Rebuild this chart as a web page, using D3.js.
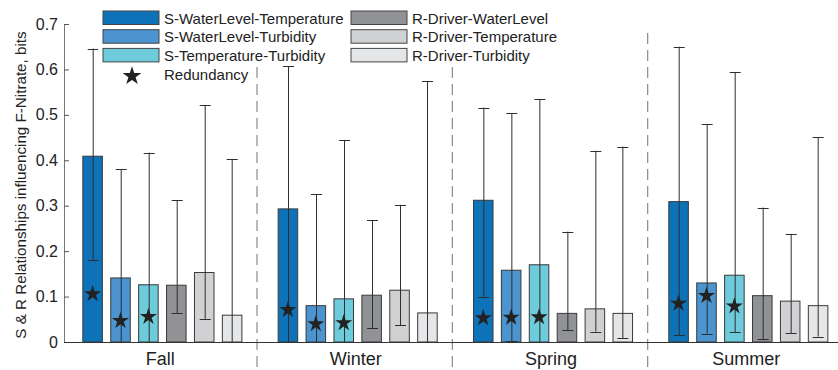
<!DOCTYPE html>
<html>
<head>
<meta charset="utf-8">
<script src="https://cdn.jsdelivr.net/npm/d3@7"></script>
<style>
  body { margin: 0; background: #fff; }
  svg { display: block; font-family: 'Liberation Sans', Arial, sans-serif; }
</style>
</head>
<body>
<div id="wrapper"></div>
<script>
// data
const seasons = ['Fall', 'Winter', 'Spring', 'Summer'];
const seriesNames = [
  'S-WaterLevel-Temperature', 'S-WaterLevel-Turbidity', 'S-Temperature-Turbidity',
  'R-Driver-WaterLevel', 'R-Driver-Temperature', 'R-Driver-Turbidity'
];
const seriesColors = ['#0e72b9', '#4b94d0', '#6dcbdb', '#909295', '#d0d1d3', '#e5e6e7'];

// bar heights, one row per season
const barValues = [
  [0.409, 0.141, 0.126, 0.125, 0.153, 0.059],
  [0.293, 0.080, 0.095, 0.103, 0.114, 0.064],
  [0.312, 0.158, 0.170, 0.063, 0.073, 0.063],
  [0.309, 0.130, 0.147, 0.102, 0.090, 0.080]
];
const errHigh = [
  [0.646, 0.381, 0.417, 0.312, 0.522, 0.403],
  [0.608, 0.325, 0.445, 0.268, 0.302, 0.574],
  [0.516, 0.503, 0.534, 0.243, 0.421, 0.430],
  [0.650, 0.480, 0.594, 0.296, 0.238, 0.451]
];
const errLow = [
  [0.180, 0, 0, 0.064, 0.051, 0],
  [0, 0, 0, 0.031, 0.037, 0],
  [0.100, 0.002, 0, 0.026, 0.023, 0.008],
  [0.015, 0.018, 0.021, 0.006, 0.019, 0.012]
];
// redundancy stars, only for the three S- series
const redundancy = [
  [0.108, 0.049, 0.058],
  [0.073, 0.042, 0.044],
  [0.055, 0.056, 0.057],
  [0.087, 0.104, 0.081]
];
const yTicks = [0, 0.1, 0.2, 0.3, 0.4, 0.5, 0.6, 0.7];

const width = 838, height = 370;
const margin = {left: 64, right: -8, top: 24, bottom: 28};

const svg = d3.select('#wrapper').append('svg')
  .attr('width', width).attr('height', height);

const x = d3.scaleBand().domain(seasons)
  .range([margin.left + 0.7, width - margin.right]);
const xi = d3.scaleBand().domain(d3.range(seriesNames.length))
  .range([0, x.bandwidth()]).paddingInner(0.3).paddingOuter(0.65);
const y = d3.scaleLinear().domain([0, 0.7]).range([height - margin.bottom, margin.top]);

// dashed season separators
const seps = seasons.slice(1);
svg.selectAll('.sep').data(seps).join('line')
  .attr('x1', d => x(d) - 3).attr('x2', d => x(d) - 3)
  .attr('y1', y(0.68)).attr('y2', height)
  .attr('stroke', '#8a8a8a').attr('stroke-width', 1.2)
  .attr('stroke-dasharray', '11,6');

// bars
const groups = svg.selectAll('.season').data(seasons).join('g')
  .attr('transform', d => `translate(${x(d)},0)`);

groups.each(function(s, si) {
  const g = d3.select(this);
  const rows = barValues[si].map((v, i) => ({i, v, hi: errHigh[si][i], lo: errLow[si][i]}));

  g.selectAll('rect').data(rows).join('rect')
    .attr('x', d => xi(d.i)).attr('width', xi.bandwidth())
    .attr('y', d => y(d.v)).attr('height', d => y(0) - y(d.v))
    .attr('fill', d => seriesColors[d.i])
    .attr('stroke', '#3a3a3a').attr('stroke-width', 1);

  const cx = d => Math.round(xi(d.i) + xi.bandwidth() / 2) + 0.5;
  g.selectAll('.err').data(rows).join('line')
    .attr('x1', cx).attr('x2', cx)
    .attr('y1', d => y(d.hi)).attr('y2', d => y(d.lo))
    .attr('stroke', '#2e2e2e').attr('stroke-width', 1);
  g.selectAll('.capH').data(rows).join('line')
    .attr('x1', d => cx(d) - 5.5).attr('x2', d => cx(d) + 5.5)
    .attr('y1', d => Math.round(y(d.hi)) + 0.5).attr('y2', d => Math.round(y(d.hi)) + 0.5)
    .attr('stroke', '#2e2e2e').attr('stroke-width', 1);
  g.selectAll('.capL').data(rows).join('line')
    .attr('x1', d => cx(d) - 5.5).attr('x2', d => cx(d) + 5.5)
    .attr('y1', d => Math.round(y(d.lo)) + 0.5).attr('y2', d => Math.round(y(d.lo)) + 0.5)
    .attr('stroke', '#2e2e2e').attr('stroke-width', 1);

  g.selectAll('.star').data(redundancy[si]).join('path')
    .attr('d', d3.symbol(d3.symbolStar, 90))
    .attr('transform', (d, i) => `translate(${xi(i) + xi.bandwidth() / 2},${y(d) + 1})`)
    .attr('fill', '#222');
});

// axes
const yAxis = svg.append('g').attr('transform', `translate(${margin.left},0)`)
  .call(d3.axisLeft(y).tickValues(yTicks).tickSize(-5).tickPadding(6)
    .tickFormat(d => d === 0 ? '0' : d3.format('.1f')(d)));
yAxis.select('.domain').attr('stroke', '#777');
yAxis.selectAll('.tick line').attr('stroke', '#555');
yAxis.selectAll('text').attr('font-size', 16).attr('fill', '#222');

svg.append('line')
  .attr('x1', margin.left).attr('x2', width)
  .attr('y1', y(0) + 0.5).attr('y2', y(0) + 0.5)
  .attr('stroke', '#333').attr('stroke-width', 1);

svg.selectAll('.cat').data(seasons).join('text')
  .attr('x', d => x(d) + x.bandwidth() / 2 - 2)
  .attr('y', y(0) + 23)
  .attr('text-anchor', 'middle')
  .attr('font-size', 18).attr('fill', '#222')
  .text(d => d);

svg.append('text')
  .attr('transform', `translate(26,${(y(0) + y(0.7)) / 2 + 2}) rotate(-90)`)
  .attr('text-anchor', 'middle')
  .attr('font-size', 15.2).attr('fill', '#222')
  .text('S & R Relationships influencing F-Nitrate, bits');

// legends
svg.append('rect').attr('x', 98).attr('y', 4).attr('width', 444).attr('height', 62).attr('fill', '#fff');

const leg = [
  {x: 103, names: seriesNames.slice(0, 3), colors: seriesColors.slice(0, 3)},
  {x: 351, names: seriesNames.slice(3), colors: seriesColors.slice(3)}
];
leg.forEach(l => {
  const rowsG = svg.selectAll(null).data(l.names).join('g')
    .attr('transform', (d, i) => `translate(${l.x},${11 + i * 18.7})`);
  rowsG.append('rect').attr('width', 56).attr('height', 13.5)
    .attr('fill', (d, i) => l.colors[i]).attr('stroke', '#444');
  rowsG.append('text').attr('x', 61).attr('y', 12.5)
    .attr('font-size', 15).attr('fill', '#222').text(d => d);
});
svg.append('path').attr('d', d3.symbol(d3.symbolStar, 110))
  .attr('transform', `translate(132,${11 + 3 * 18.7 + 9})`).attr('fill', '#222');
svg.append('text').attr('x', 164).attr('y', 11 + 3 * 18.7 + 13)
  .attr('font-size', 15).attr('fill', '#222').text('Redundancy');
</script>
</body>
</html>
